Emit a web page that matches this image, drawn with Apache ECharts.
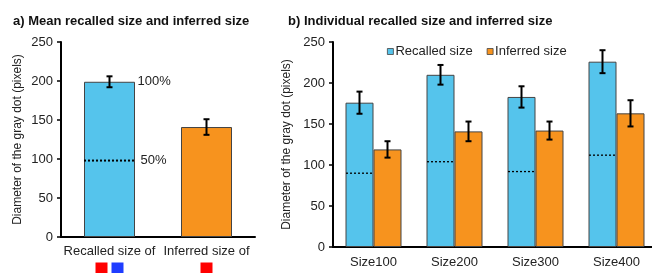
<!DOCTYPE html>
<html>
<head>
<meta charset="utf-8">
<script src="https://cdn.jsdelivr.net/npm/echarts@6/dist/echarts.min.js"></script>
<style>
  html, body { margin: 0; padding: 0; background: #fff; }
  #main { width: 652px; height: 273px; }
</style>
</head>
<body>
<div id="main"></div>
<script>
// panel a
const meanCats = ['Recalled size of', 'Inferred size of'];
const meanValues = [199, 141];
const meanErrors = [7, 10];
const meanHalf = 98;
const pctLabels = ['100%', '50%'];

// panel b
const sizeCats = ['Size100', 'Size200', 'Size300', 'Size400'];
const recalledValues = [176, 210, 183, 226];
const recalledErrors = [13.5, 12, 13, 14];
const inferredValues = [119, 141, 142, 163];
const inferredErrors = [10, 12, 11, 16];
const halfValues = [90, 104, 92, 112];

const yTicks = { min: 0, max: 250, interval: 50 };

const BLUE = '#55c4ec';
const ORANGE = '#f7931e';
const FONT = 'Liberation Sans';

var myChart = echarts.init(document.getElementById('main'));

// error bar drawn with custom series, offset in px from category center
function errorBar(offset) {
    return function (params, api) {
        var i = api.value(0), v = api.value(1), e = api.value(2);
        var top = api.coord([i, v + e]);
        var bot = api.coord([i, v - e]);
        var x = top[0] + offset;
        var style = { stroke: '#000', lineWidth: 2 };
        return {
            type: 'group',
            children: [
                { type: 'line', shape: { x1: x, y1: top[1], x2: x, y2: bot[1] }, style: style },
                { type: 'line', shape: { x1: x - 3, y1: top[1], x2: x + 3, y2: top[1] }, style: style },
                { type: 'line', shape: { x1: x - 3, y1: bot[1], x2: x + 3, y2: bot[1] }, style: style }
            ]
        };
    };
}

function dotted(offset, width, lw) {
    return function (params, api) {
        var p = api.coord([api.value(0), api.value(1)]);
        var x = p[0] + offset;
        return {
            type: 'line',
            shape: { x1: x - width / 2, y1: p[1], x2: x + width / 2, y2: p[1] },
            style: { stroke: '#000', lineWidth: lw, lineDash: [2, 2] }
        };
    };
}

var axisLine = { lineStyle: { color: '#000', width: 2 } };
var axisText = { fontFamily: FONT, fontSize: 13, color: '#222' };

var option = {
    animation: false,
    textStyle: { fontFamily: FONT },
    title: [
        { text: 'a) Mean recalled size and inferred size', left: 8, top: 10,
          textStyle: { fontFamily: FONT, fontSize: 13, fontWeight: 'bold', color: '#111' } },
        { text: 'b) Individual recalled size and inferred size', left: 283, top: 10,
          textStyle: { fontFamily: FONT, fontSize: 13, fontWeight: 'bold', color: '#111' } }
    ],
    legend: {
        data: ['Recalled size', 'Inferred size'],
        left: 382, top: 40,
        icon: 'rect', itemWidth: 6, itemHeight: 6, itemGap: 14,
        itemStyle: { borderColor: '#444', borderWidth: 0.8 },
        textStyle: { fontFamily: FONT, fontSize: 13, color: '#222', padding: [0, 0, 0, -3] }
    },
    grid: [
        { left: 61, top: 42, width: 194, height: 195, outerBoundsMode: 'none' },
        { left: 333, top: 42, width: 324, height: 205, outerBoundsMode: 'none' }
    ],
    xAxis: [
        {
            type: 'category', gridIndex: 0, data: meanCats,
            axisLine: axisLine, axisTick: { show: false },
            axisLabel: {
                interval: 0,
                fontFamily: FONT, fontSize: 13, color: '#222', margin: 6, lineHeight: 17,
                formatter: function (val, idx) {
                    return idx === 0 ? val + '\n{r|}{s|}{b|}' : val + '\n{r|}';
                },
                rich: {
                    r: { width: 12, height: 12, backgroundColor: '#ff0000' },
                    b: { width: 12, height: 12, backgroundColor: '#1f3dff' },
                    s: { width: 4, height: 12 }
                }
            }
        },
        {
            type: 'category', gridIndex: 1, data: sizeCats,
            axisLine: axisLine, axisTick: { show: false },
            axisLabel: Object.assign({ margin: 9, interval: 0 }, axisText)
        }
    ],
    yAxis: [0, 1].map(function (g) {
        return Object.assign({
            type: 'value', gridIndex: g,
            name: 'Diameter of the gray dot (pixels)',
            nameLocation: 'middle', nameGap: g === 0 ? 37 : 40,
            nameTextStyle: { fontFamily: FONT, fontSize: 12, color: '#222' },
            axisLine: Object.assign({ show: true }, axisLine),
            axisTick: { show: true, length: 4, lineStyle: { color: '#000', width: 1.5 } },
            axisLabel: Object.assign({ margin: 8 }, axisText),
            splitLine: { show: false }
        }, yTicks);
    }),
    series: [
        {
            type: 'bar', xAxisIndex: 0, yAxisIndex: 0, barWidth: 51,
            data: meanValues.map(function (v, i) {
                return { value: v, itemStyle: { color: i === 0 ? BLUE : ORANGE } };
            }),
            itemStyle: { borderColor: '#444', borderWidth: 1 }
        },
        {
            type: 'custom', xAxisIndex: 0, yAxisIndex: 0, z: 5,
            renderItem: errorBar(0),
            encode: { x: 0, y: 1 },
            data: meanValues.map(function (v, i) { return [i, v, meanErrors[i]]; })
        },
        {
            type: 'custom', xAxisIndex: 0, yAxisIndex: 0, z: 5,
            encode: { x: 0, y: 1 },
            data: [[0, meanHalf]],
            renderItem: function (params, api) {
                var hi = api.coord([0, meanValues[0]]);
                var lo = api.coord([0, meanHalf]);
                return {
                    type: 'group',
                    children: [
                        dotted(0, 51, 2)(params, api),
                        { type: 'text', style: { x: hi[0] + 28, y: hi[1], text: pctLabels[0],
                            verticalAlign: 'middle', font: '13px "Liberation Sans"', fill: '#222' } },
                        { type: 'text', style: { x: lo[0] + 31, y: lo[1], text: pctLabels[1],
                            verticalAlign: 'middle', font: '13px "Liberation Sans"', fill: '#222' } }
                    ]
                };
            }
        },
        {
            name: 'Recalled size', type: 'bar', xAxisIndex: 1, yAxisIndex: 1,
            barWidth: 28, barGap: '0%', data: recalledValues,
            itemStyle: { color: BLUE, borderColor: '#444', borderWidth: 1 }
        },
        {
            name: 'Inferred size', type: 'bar', xAxisIndex: 1, yAxisIndex: 1,
            barWidth: 28, barGap: '0%', data: inferredValues,
            itemStyle: { color: ORANGE, borderColor: '#444', borderWidth: 1 }
        },
        {
            type: 'custom', xAxisIndex: 1, yAxisIndex: 1, z: 5,
            renderItem: errorBar(-14), encode: { x: 0, y: 1 },
            data: recalledValues.map(function (v, i) { return [i, v, recalledErrors[i]]; })
        },
        {
            type: 'custom', xAxisIndex: 1, yAxisIndex: 1, z: 5,
            renderItem: errorBar(14), encode: { x: 0, y: 1 },
            data: inferredValues.map(function (v, i) { return [i, v, inferredErrors[i]]; })
        },
        {
            type: 'custom', xAxisIndex: 1, yAxisIndex: 1, z: 5,
            renderItem: dotted(-14, 27, 1.3), encode: { x: 0, y: 1 },
            data: halfValues.map(function (v, i) { return [i, v]; })
        }
    ]
};

myChart.setOption(option);
</script>
</body>
</html>
